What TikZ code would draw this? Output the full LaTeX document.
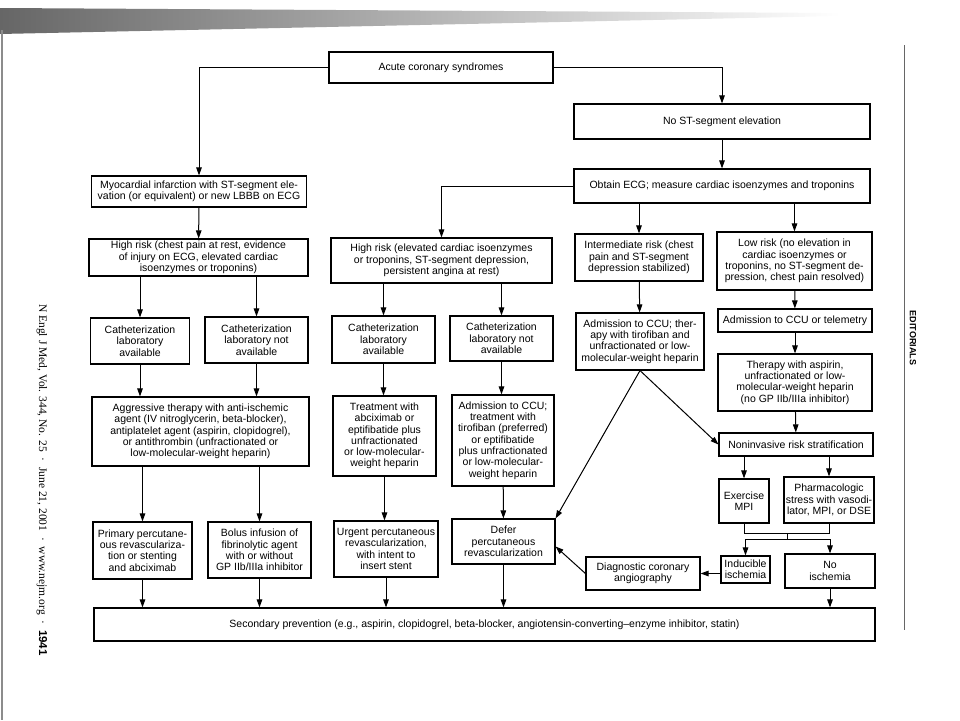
\documentclass[tikz,border=0pt]{standalone}
\usepackage{fontspec}
\setmainfont{Liberation Sans}
\setsansfont{Liberation Sans}
\newfontfamily\journalfont{Liberation Serif}
\usetikzlibrary{arrows.meta}
\tikzset{
  box/.style={draw, line width=1.1pt, align=center, inner sep=1pt,
    font=\fontsize{10.5}{11.3}\selectfont},
  arr/.style={line width=1pt, -{Triangle[length=8pt,width=5.5pt]}},
  ln/.style={line width=1pt},
}
\begin{document}
\begin{tikzpicture}[x=1pt, y=-1pt]
    \useasboundingbox (0,0) rectangle (960,720);
    % scanned page edges
    \shade[left color=black!60, right color=white] (0,8) -- (840,13) -- (840,16) -- (0,34) -- cycle;
    \draw[black!45, line width=1.5pt] (2,30) -- (2,720);
    \draw[black!60, line width=0.8pt] (904,45) -- (904,630);

    % top of the chart
    \node[box, minimum width=224, minimum height=31] (acs) at (441,67.5) {Acute coronary syndromes};
    \node[box, minimum width=296, minimum height=35] (nost) at (722,121.5) {No ST-segment elevation};
    \node[box, minimum width=296, minimum height=34] (ecg) at (722,186) {Obtain ECG; measure cardiac isoenzymes and troponins};
    \node[box, minimum width=215, minimum height=31] (mi) at (199,191.5) {Myocardial infarction with ST-segment ele-\\vation (or equivalent) or new LBBB on ECG};

    % risk groups
    \node[box, minimum width=219, minimum height=37] (hr1) at (198.5,257.5) {High risk (chest pain at rest, evidence\\of injury on ECG, elevated cardiac\\isoenzymes or troponins)};
    \node[box, minimum width=221, minimum height=45] (hr2) at (441.5,260.5) {High risk (elevated cardiac isoenzymes\\or troponins, ST-segment depression,\\persistent angina at rest)};
    \node[box, minimum width=128, minimum height=47] (inter) at (639,257.5) {Intermediate risk (chest\\pain and ST-segment\\depression stabilized)};
    \node[box, minimum width=155, minimum height=58] (low) at (794.5,261) {Low risk (no elevation in\\cardiac isoenzymes or\\troponins, no ST-segment de-\\pression, chest pain resolved)};

    % catheterization laboratory
    \node[box, minimum width=99, minimum height=46] (cath1) at (140,341) {Catheterization\\laboratory\\available};
    \node[box, minimum width=103, minimum height=46] (nocath1) at (256.5,340) {Catheterization\\laboratory not\\available};
    \node[box, minimum width=103, minimum height=47] (cath2) at (383.5,339.5) {Catheterization\\laboratory\\available};
    \node[box, minimum width=103, minimum height=45] (nocath2) at (501.5,338.5) {Catheterization\\laboratory not\\available};
    \node[box, minimum width=128, minimum height=57] (ccu) at (640,341.5) {Admission to CCU; ther-\\apy with tirofiban and\\unfractionated or low-\\molecular-weight heparin};
    \node[box, minimum width=154, minimum height=23] (tele) at (795,320.5) {Admission to CCU or telemetry};
    \node[box, minimum width=154, minimum height=57] (asp) at (795,382.5) {Therapy with aspirin,\\unfractionated or low-\\molecular-weight heparin\\(no GP IIb/IIIa inhibitor)};

    % therapy
    \node[box, minimum width=217, minimum height=69] (aggr) at (200.5,431.5) {Aggressive therapy with anti-ischemic\\agent (IV nitroglycerin, beta-blocker),\\antiplatelet agent (aspirin, clopidogrel),\\or antithrombin (unfractionated or\\low-molecular-weight heparin)};
    \node[box, minimum width=103, minimum height=80] (treat) at (384.5,436) {Treatment with\\abciximab or\\eptifibatide plus\\unfractionated\\or low-molecular-\\weight heparin};
    \node[box, minimum width=102, minimum height=91] (tiro) at (503,440.5) {Admission to CCU;\\treatment with\\tirofiban (preferred)\\or eptifibatide\\plus unfractionated\\or low-molecular-\\weight heparin};
    \node[box, minimum width=154, minimum height=23] (nonin) at (796,444.5) {Noninvasive risk stratification};
    \node[box, minimum width=50, minimum height=44] (exmpi) at (744,501) {Exercise\\MPI};
    \node[box, minimum width=90, minimum height=46] (pharm) at (829,500) {Pharmacologic\\stress with vasodi-\\lator, MPI, or DSE};

    % outcomes
    \node[box, minimum width=99, minimum height=57] (prim) at (142.5,550.5) {Primary percutane-\\ous revasculariza-\\tion or stenting\\and abciximab};
    \node[box, minimum width=103, minimum height=56] (bolus) at (259.5,550) {Bolus infusion of\\fibrinolytic agent\\with or without\\GP IIb/IIIa inhibitor};
    \node[box, minimum width=104, minimum height=56] (urgent) at (386,549) {Urgent percutaneous\\revascularization,\\with intent to\\insert stent};
    \node[box, minimum width=103, minimum height=45] (defer) at (503.5,541.5) {Defer\\percutaneous\\revascularization};
    \node[box, minimum width=114, minimum height=33] (diag) at (643,573.5) {Diagnostic coronary\\angiography};
    \node[box, minimum width=49, minimum height=27] (induc) at (745.5,569.5) {Inducible\\ischemia};
    \node[box, minimum width=90, minimum height=34] (noisch) at (830,571) {No\\ischemia};
    \node[box, minimum width=781, minimum height=33] (sec) at (484.5,624.5) {Secondary prevention (e.g., aspirin, clopidogrel, beta-blocker, angiotensin-converting--enzyme inhibitor, statin)};

    % connectors
    \draw[arr] (acs.west) -| (mi.north);
    \draw[arr] (acs.east) -| (nost.north);
    \draw[arr] (nost) -- (ecg);
    \draw[arr] (mi) -- (hr1);
    \draw[arr] (ecg.west) -| (hr2.north);
    \draw[arr] (inter.north |- ecg.south) -- (inter.north);
    \draw[arr] (low.north |- ecg.south) -- (low.north);

    \draw[arr] (cath1.north |- hr1.south) -- (cath1.north);
    \draw[arr] (nocath1.north |- hr1.south) -- (nocath1.north);
    \draw[arr] (cath2.north |- hr2.south) -- (cath2.north);
    \draw[arr] (nocath2.north |- hr2.south) -- (nocath2.north);
    \draw[arr] (inter) -- (ccu);
    \draw[arr] (low) -- (tele);
    \draw[arr] (tele) -- (asp);
    \draw[arr] (asp) -- (nonin);

    \draw[arr] (cath1.south) -- (cath1.south |- aggr.north);
    \draw[arr] (nocath1.south) -- (nocath1.south |- aggr.north);
    \draw[arr] (cath2.south) -- (cath2.south |- treat.north);
    \draw[arr] (nocath2.south) -- (nocath2.south |- tiro.north);
    \draw[arr] (ccu.south) -- (nonin.west);
    \draw[arr] (ccu.south) -- (defer.north east);

    \draw[arr] (prim.north |- aggr.south) -- (prim.north);
    \draw[arr] (bolus.north |- aggr.south) -- (bolus.north);
    \draw[arr] (treat.south) -- (treat.south |- urgent.north);
    \draw[arr] (tiro) -- (defer);
    \draw[arr] (exmpi.north |- nonin.south) -- (exmpi.north);
    \draw[arr] (pharm.north |- nonin.south) -- (pharm.north);

    % the two stress tests join
    \draw[ln] (exmpi.south) -- ++(0,10) coordinate (ja) -| (pharm.south);
    \coordinate (jb) at (787,539);
    \draw[ln] (jb |- ja) -- (jb);
    \draw[arr] (jb) -| (induc.north);
    \draw[arr] (jb) -| (noisch.north);
    \draw[arr] (induc.west |- diag.east) -- (diag.east);
    \draw[arr] (diag.west) -- ([yshift=-5pt]defer.east);

    \draw[arr] (prim) -- (prim |- sec.north);
    \draw[arr] (bolus) -- (bolus |- sec.north);
    \draw[arr] (urgent) -- (urgent |- sec.north);
    \draw[arr] (defer) -- (defer |- sec.north);
    \draw[arr] (noisch) -- (noisch |- sec.north);

    % page margins
    \node[rotate=-90, font=\journalfont\fontsize{11.5}{11.5}\selectfont] (jref) at (42,480)
      {N Engl J Med, Vol. 344, No. 25\enspace\textperiodcentered\enspace June 21, 2001\enspace\textperiodcentered\enspace www.nejm.org\enspace\textperiodcentered\enspace{\sffamily\bfseries 1941}};
    \node[rotate=-90, font=\fontsize{9}{9}\selectfont\bfseries] (edit) at (913,338) {EDITORIALS};
\end{tikzpicture}
\end{document}
